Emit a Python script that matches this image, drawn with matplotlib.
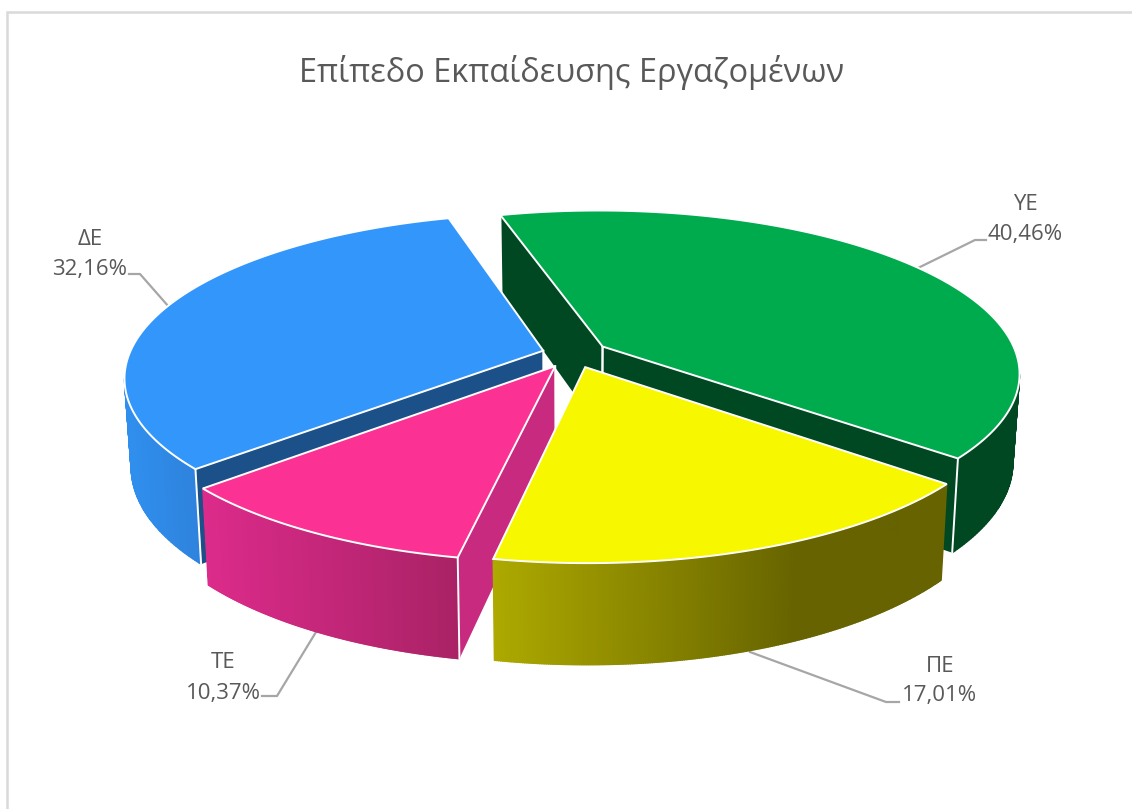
#!/usr/bin/env python3

import matplotlib
matplotlib.use("Agg")
import matplotlib.pyplot as plt
import numpy as np
from matplotlib.colors import to_rgb

plt.rcParams['font.family'] = ['Open Sans', 'DejaVu Sans']

title = "Επίπεδο Εκπαίδευσης Εργαζομένων"
categories = ["ΥΕ", "ΠΕ", "ΤΕ", "ΔΕ"]
shares = [40.46, 17.01, 10.37, 32.16]
share_labels = ["40,46%", "17,01%", "10,37%", "32,16%"]
explode = [0.086, 0.086, 0.086, 0.075]

top_colors = ["#00AB4E", "#F7F700", "#FB3294", "#3296FB"]
wall_colors = ["#004822", "#666300", "#C72A7E", "#1C5088"]
# rim shading: x positions in pixels and colours between them
rim_stops = [
    ([0, 1132], ["#004822", "#004822"]),
    ([490, 800, 950], ["#AEAA00", "#666300", "#666300"]),
    ([203, 460], ["#DC2B8B", "#A92265"]),
    ([125, 200], ["#308FEE", "#2E82DC"]),
]
draw_order = [0, 3, 2, 1]

# projection of the pie disc to pixels
CX, CY = 573, 354
A, B, K = 414, 160, 0.16
START = -16


def project(x, y):
    p = 1 / (1 + K * y)
    return CX + A * x * p, CY - B * y * p


def drop(x, y):
    # bottom face, a bit narrower and shorter at the back
    return CX + (x - CX) * 0.985, y + 100 + 0.07 * (y - 540)


def rim_color(x, stops):
    xs, cols = stops
    rgb = np.array([to_rgb(c) for c in cols])
    return [np.interp(x, xs, rgb[:, i]) for i in range(3)]


fig = plt.figure(figsize=(11.32, 8.09), dpi=100)
ax = fig.add_axes([0, 0, 1, 1])
ax.set_xlim(0, 1132)
ax.set_ylim(809, 0)
ax.axis("off")

# chart frame, only top and left are inside the crop
ax.plot([7, 7, 1132], [809, 12, 12], color="#D9D9D9", lw=1.8, solid_joinstyle="miter")

ax.text(572, 72.5, title, ha="center", va="center", fontsize=23.4, color="#595959")

# leader lines go under the pie
leaders = [
    ([918, 975, 986], [268, 240, 240]),
    ([750, 886, 899], [652, 702, 702]),
    ([316, 277, 262], [632, 696, 696]),
    ([169, 140, 129], [307, 274, 274]),
]
for lx, ly in leaders:
    ax.plot(lx, ly, color="#A6A6A6", lw=1.6, zorder=1)

label_pos = [(1025, 204, 234), (940, 667, 696), (223, 663, 693), (90, 239, 270)]
for name, val, (tx, y1, y2) in zip(categories, share_labels, label_pos):
    ax.text(tx, y1, name, ha="center", va="center", fontsize=16, color="#595959")
    ax.text(tx, y2, val, ha="center", va="center", fontsize=16, color="#595959")

# slice angles from the values
sweeps = np.array(shares) / sum(shares) * 360
starts = START + np.concatenate([[0], np.cumsum(sweeps)[:-1]])

z = 2
for i in draw_order:
    t0 = np.radians(starts[i])
    t1 = np.radians(starts[i] + sweeps[i])
    mid = (t0 + t1) / 2
    ox, oy = explode[i] * np.sin(mid), explode[i] * np.cos(mid)
    t = np.linspace(t0, t1, 240)
    arc_x, arc_y = project(ox + np.sin(t), oy + np.cos(t))
    ap_x, ap_y = project(ox, oy)

    # flat walls, only those that face the viewer (going left on screen)
    for (ax0, ay0), (ax1, ay1) in [((ap_x, ap_y), (arc_x[0], arc_y[0])),
                                   ((arc_x[-1], arc_y[-1]), (ap_x, ap_y))]:
        if ax1 < ax0:
            bx0, by0 = drop(ax0, ay0)
            bx1, by1 = drop(ax1, ay1)
            ax.fill([ax0, ax1, bx1, bx0], [ay0, ay1, by1, by0], color=wall_colors[i], lw=0, zorder=z)
            ax.plot([ax0, bx0], [ay0, by0], color="white", lw=1.4, zorder=z + 1)
            ax.plot([ax1, bx1], [ay1, by1], color="white", lw=1.4, zorder=z + 1)

    # curved rim
    bot_x, bot_y = drop(arc_x, arc_y)
    for j in range(len(t) - 1):
        if arc_x[j + 1] < arc_x[j]:
            c = rim_color(arc_x[j], rim_stops[i])
            ax.fill([arc_x[j], arc_x[j + 1], bot_x[j + 1], bot_x[j]],
                    [arc_y[j], arc_y[j + 1], bot_y[j + 1], bot_y[j]],
                    facecolor=c, edgecolor=c, lw=1.0, zorder=z)

    # top face
    ax.fill(np.r_[ap_x, arc_x], np.r_[ap_y, arc_y], facecolor=top_colors[i],
            edgecolor="white", lw=1.4, joinstyle="miter", zorder=z + 2)
    z += 3

fig.savefig("out.png", dpi=100)
